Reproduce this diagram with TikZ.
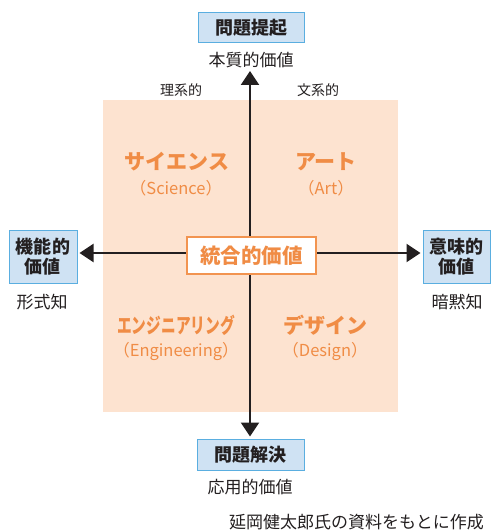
\documentclass[tikz,border=0pt]{standalone}
\usepackage{fontspec}
\setmainfont{Noto Sans CJK JP}
\usetikzlibrary{arrows.meta}
\definecolor{peach}{HTML}{FDE3D0}
\definecolor{orangetxt}{HTML}{F08C45}
\definecolor{orangeline}{HTML}{F29450}
\definecolor{bluefill}{HTML}{CFE2F3}
\definecolor{blueline}{HTML}{5AAEE0}
\definecolor{ink}{HTML}{231F20}
\tikzset{
  bluebox/.style={draw=blueline, line width=1pt, fill=bluefill, text=ink, font=\bfseries\fontsize{18}{20}\selectfont, align=center, inner sep=0pt},
  caption/.style={text=ink, font=\fontsize{17}{19}\selectfont, inner sep=0pt},
  small/.style={text=ink, font=\fontsize{14}{16}\selectfont, inner sep=0pt},
  qtitle/.style={text=orangetxt, font=\bfseries\fontsize{21}{23}\selectfont, inner sep=0pt},
  qsub/.style={text=orangetxt, font=\fontsize{16.5}{19}\selectfont, inner sep=0pt},
  axis/.style={draw=ink, line width=2.4pt, -{Triangle[length=14pt,width=18pt]}},
  centerbox/.style={draw=orangeline, line width=2pt, fill=white, text=orangetxt, font=\bfseries\fontsize{20.5}{22}\selectfont, minimum width=129pt, minimum height=37pt, inner sep=0pt}
}
\begin{document}
\begin{tikzpicture}[x=1pt,y=-1pt]
\useasboundingbox (0,0) rectangle (491,532);
\fill[peach] (103,100) rectangle (398,412);
% top
\node[bluebox, minimum width=106pt, minimum height=30pt] (top) at (251,28) {問題提起};
\node[caption] (topval) at (251,60) {本質的価値};
\coordinate (ntip) at (250,71);
\node[small] (rikei) at (181,90) {理系的};
\node[small] (bunkei) at (318,90) {文系的};
% bottom
\node[bluebox, minimum width=107pt, minimum height=31pt] (bot) at (250.5,454.5) {問題解決};
\node[caption] (botval) at (250,487) {応用的価値};
\node[caption, anchor=east] (credit) at (484,522) {延岡健太郎氏の資料をもとに作成};
% left
\node[bluebox, minimum width=68pt, minimum height=53pt] (left) at (43,256.5) {機能的\\価値};
\node[caption] (leftval) at (42,302) {形式知};
% right
\node[bluebox, minimum width=67pt, minimum height=53pt] (right) at (456.5,256.5) {意味的\\価値};
\node[caption] (rightval) at (457,302) {暗黙知};
% center
\node[centerbox] (cen) at (251.5,255.5) {統合的価値};
% axes
\draw[axis] (cen.north -| ntip) -- (ntip);
\draw[axis, shorten >=2pt] (cen.south -| ntip) -- (bot.north -| ntip);
\draw[axis, shorten >=2pt] (cen.west |- 0,253) -- (left.east |- 0,253);
\draw[axis, shorten >=2pt] (cen.east |- 0,253) -- (right.west |- 0,253);
\node[centerbox] at (cen) {統合的価値};
% quadrants
\node[qtitle] (sci) at (177,162) {サイエンス};
\node[qsub] (scis) at (176,188) {（Science）};
\node[qtitle] (art) at (326,162) {アート};
\node[qsub] (arts) at (326,188) {（Art）};
\node[qtitle] (eng) at (176,325) {\scalebox{0.7}[1]{エンジニアリング}};
\node[qsub] (engs) at (176,351) {（Engineering）};
\node[qtitle] (des) at (325,325) {デザイン};
\node[qsub] (dess) at (325,351) {（Design）};
\end{tikzpicture}
\end{document}
